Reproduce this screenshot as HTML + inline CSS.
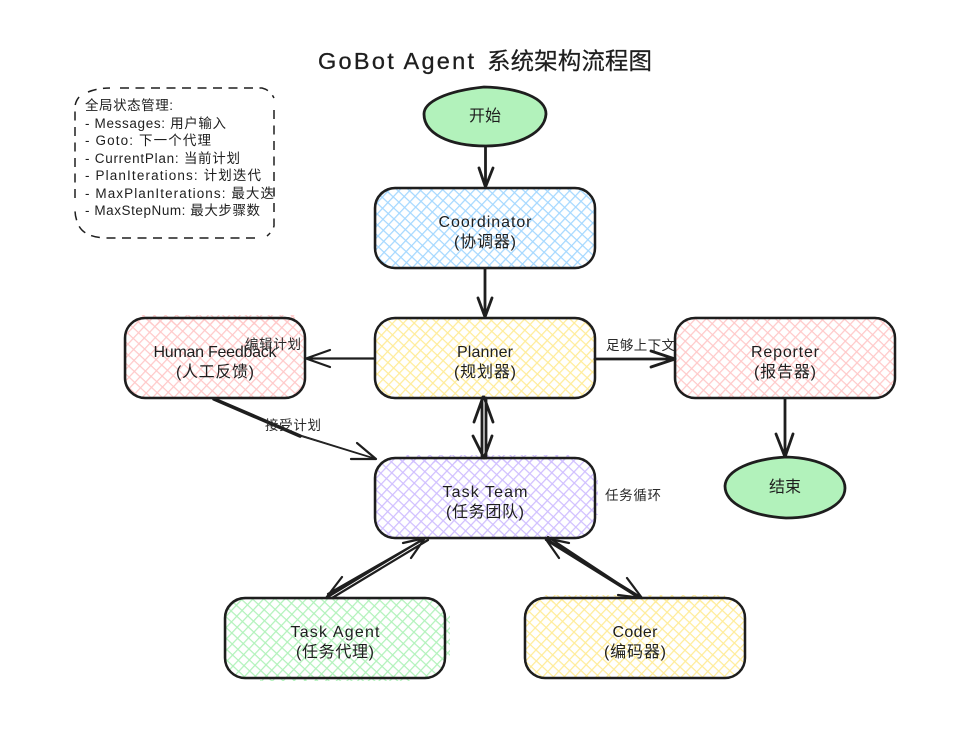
<!DOCTYPE html>
<html><head><meta charset="utf-8"><style>
html,body{margin:0;padding:0;background:#fff}
svg{display:block}
text{font-family:"Liberation Sans","Noto Sans CJK SC",sans-serif;fill:#1e1e1e}
.n{font-size:16px;text-anchor:middle}
.l{font-size:13.5px;fill:#2a2a2a}
.s{font-size:13.5px}
.b{fill:none;stroke:#1e1e1e;stroke-width:2.500}
.o{fill:none;stroke:#1e1e1e;stroke-width:1;opacity:.55}
.a{fill:none;stroke:#1e1e1e;stroke-width:2.800;stroke-linecap:round;stroke-linejoin:round}
</style></head><body>
<svg width="956" height="731" viewBox="0 0 956 731" xmlns="http://www.w3.org/2000/svg">
<defs>
<pattern id="pb" width="7.800" height="7.800" patternUnits="userSpaceOnUse" patternTransform="rotate(43)"><path d="M0 0H7.800M0 0V7.800" stroke="#a5d8ff" stroke-width="2.500"/></pattern>
<pattern id="py" width="7.800" height="7.800" patternUnits="userSpaceOnUse" patternTransform="rotate(43)"><path d="M0 0H7.800M0 0V7.800" stroke="#ffec99" stroke-width="2.500"/></pattern>
<pattern id="pr" width="7.800" height="7.800" patternUnits="userSpaceOnUse" patternTransform="rotate(43)"><path d="M0 0H7.800M0 0V7.800" stroke="#ffc9c9" stroke-width="2.500"/></pattern>
<pattern id="pp" width="7.800" height="7.800" patternUnits="userSpaceOnUse" patternTransform="rotate(43)"><path d="M0 0H7.800M0 0V7.800" stroke="#d0bfff" stroke-width="2.500"/></pattern>
<pattern id="pg" width="7.800" height="7.800" patternUnits="userSpaceOnUse" patternTransform="rotate(43)"><path d="M0 0H7.800M0 0V7.800" stroke="#b2f2bb" stroke-width="2.500"/></pattern>
</defs>
<rect width="956" height="731" fill="#fff"/>

<text x="318" y="69" font-size="23.5" stroke="#1e1e1e" stroke-width=".3" textLength="156" lengthAdjust="spacing">GoBot Agent</text>
<text x="487" y="69" font-size="23.5" stroke="#1e1e1e" stroke-width=".2" textLength="165" lengthAdjust="spacing">系统架构流程图</text>

<!-- state note -->
<path d="M88 92Q98 88 110 88M120 88H262Q270 90 274 98M274 110V226Q272 232 267 236M255 238H105Q85 237 79 226Q75 218 75 210M75 198V106Q76 100 80 96" fill="none" stroke="#1e1e1e" stroke-width="1.500" stroke-dasharray="9 6.500"/>
<text class="s" x="85" y="110" textLength="88" lengthAdjust="spacing">全局状态管理:</text>
<text class="s" x="85" y="128" textLength="141" lengthAdjust="spacing">- Messages: 用户输入</text>
<text class="s" x="85" y="145" textLength="126" lengthAdjust="spacing">- Goto: 下一个代理</text>
<text class="s" x="85" y="163" textLength="155" lengthAdjust="spacing">- CurrentPlan: 当前计划</text>
<text class="s" x="85" y="180" textLength="176" lengthAdjust="spacing">- PlanIterations: 计划迭代</text>
<text class="s" x="85" y="198" textLength="189" lengthAdjust="spacing">- MaxPlanIterations: 最大迭</text>
<text class="s" x="85" y="215" textLength="175" lengthAdjust="spacing">- MaxStepNum: 最大步骤数</text>

<!-- ellipses -->
<path d="M424 114C424 102 446 91 484 87C520 88 546 98 546 114C545 132 520 146 486 146C448 146 424 133 424 114Z" fill="#b2f2bb" stroke="#1e1e1e" stroke-width="2.800"/>
<path d="M725 486C726 470 752 459 786 457C822 458 845 472 845 488C845 506 818 518 786 518C752 516 725 504 725 486Z" fill="#b2f2bb" stroke="#1e1e1e" stroke-width="2.800"/>
<text class="n" x="485" y="121" font-size="15">开始</text>
<text class="n" x="785" y="492" font-size="15">结束</text>

<!-- boxes -->
<rect x="375" y="188" width="220" height="80" rx="20" fill="url(#pb)"/><rect class="b" x="375" y="188" width="220" height="80" rx="20"/>
<rect x="375" y="318" width="220" height="80" rx="20" fill="url(#py)"/><rect class="b" x="375" y="318" width="220" height="80" rx="20"/>
<rect x="125" y="318" width="180" height="80" rx="20" fill="url(#pr)"/><rect x="140" y="315" width="155" height="10" fill="url(#pr)"/><rect class="b" x="125" y="318" width="180" height="80" rx="20"/>
<rect x="675" y="318" width="220" height="80" rx="20" fill="url(#pr)"/><rect class="b" x="675" y="318" width="220" height="80" rx="20"/>
<rect x="375" y="458" width="220" height="80" rx="20" fill="url(#pp)"/><rect x="400" y="455" width="170" height="8" fill="url(#pp)"/><rect x="590" y="475" width="8" height="40" fill="url(#pp)"/><rect class="b" x="375" y="458" width="220" height="80" rx="20"/>
<rect x="225" y="598" width="220" height="80" rx="20" fill="url(#pg)"/><rect x="440" y="615" width="10" height="45" fill="url(#pg)"/><rect x="260" y="675" width="150" height="6" fill="url(#pg)"/><rect class="b" x="225" y="598" width="220" height="80" rx="20"/>
<rect x="525" y="598" width="220" height="80" rx="20" fill="url(#py)"/><rect x="545" y="595" width="180" height="8" fill="url(#py)"/><rect class="b" x="525" y="598" width="220" height="80" rx="20"/>
<rect class="o" x="375.800" y="188.800" width="219" height="79.800" rx="20"/>
<rect class="o" x="374.400" y="318.800" width="220" height="79.800" rx="20"/>
<rect class="o" x="125.800" y="317.400" width="179" height="80" rx="20"/>
<rect class="o" x="675.800" y="317.400" width="219" height="80.800" rx="20"/>
<rect class="o" x="375.800" y="458.600" width="219" height="80" rx="20"/>
<rect class="o" x="225.800" y="598.800" width="219" height="79.800" rx="20"/>
<rect class="o" x="524.400" y="597.400" width="220" height="81" rx="20"/>

<!-- box labels -->
<text class="n" x="485" y="227" textLength="93" lengthAdjust="spacing">Coordinator</text>
<text class="n" x="485" y="247" textLength="62" lengthAdjust="spacing">(协调器)</text>
<text class="n" x="485" y="357" textLength="56" lengthAdjust="spacing">Planner</text>
<text class="n" x="485" y="377" textLength="62" lengthAdjust="spacing">(规划器)</text>
<text class="n" x="215" y="357" textLength="123" lengthAdjust="spacing">Human Feedback</text>
<text class="n" x="215" y="377" textLength="78" lengthAdjust="spacing">(人工反馈)</text>
<text class="n" x="785" y="357" textLength="68" lengthAdjust="spacing">Reporter</text>
<text class="n" x="785" y="377" textLength="62" lengthAdjust="spacing">(报告器)</text>
<text class="n" x="485" y="497" textLength="85" lengthAdjust="spacing">Task Team</text>
<text class="n" x="485" y="517" textLength="78" lengthAdjust="spacing">(任务团队)</text>
<text class="n" x="335" y="637" textLength="89" lengthAdjust="spacing">Task Agent</text>
<text class="n" x="335" y="657" textLength="78" lengthAdjust="spacing">(任务代理)</text>
<text class="n" x="635" y="637" textLength="45" lengthAdjust="spacing">Coder</text>
<text class="n" x="635" y="657" textLength="62" lengthAdjust="spacing">(编码器)</text>

<!-- connectors -->
<g class="a">
<path d="M485.500 147V187M479 168L485.500 187L493 168"/>
<path d="M485 269V317M478 298L485 317L492 298"/>
<path d="M375 358.500H306M330 350L306 358.500L330 367" stroke-width="2.200"/>
<path d="M595 359H675M651 351L675 359L651 367"/>
<path d="M785 399V457M776 434L785 457L793 434"/>
<path d="M214 399L300 436" stroke-width="3.600"/>
<path d="M300 436L375 459" stroke-width="1"/>
<path d="M297 434L374 458" stroke-width="1"/>
<path d="M357 443L376 459L351 459" stroke-width="2.200"/>
<path d="M482 398V458M486 398V458M483 397L474 422M484 397L493 422M484 458L473 436M484 458L492 436"/>
<path d="M326 598L425 538M332 598L428 540M328 594L424 539M425 538L403 543M425 538L411 558M326 598L342 577M326 598L345 598" stroke-width="2.200"/>
<path d="M545 538L642 598M548 537L639 597M546 540L636 596M545 538L559 558M545 538L569 543M642 598L627 578M642 598L618 595" stroke-width="2.200"/>
</g>

<!-- edge labels -->
<text class="l" x="245" y="349" textLength="56" lengthAdjust="spacing">编辑计划</text>
<text class="l" x="265" y="430" textLength="56" lengthAdjust="spacing">接受计划</text>
<text class="l" x="606" y="350" textLength="69" lengthAdjust="spacing">足够上下文</text>
<text class="l" x="605" y="500" textLength="56" lengthAdjust="spacing">任务循环</text>
</svg>
</body></html>
